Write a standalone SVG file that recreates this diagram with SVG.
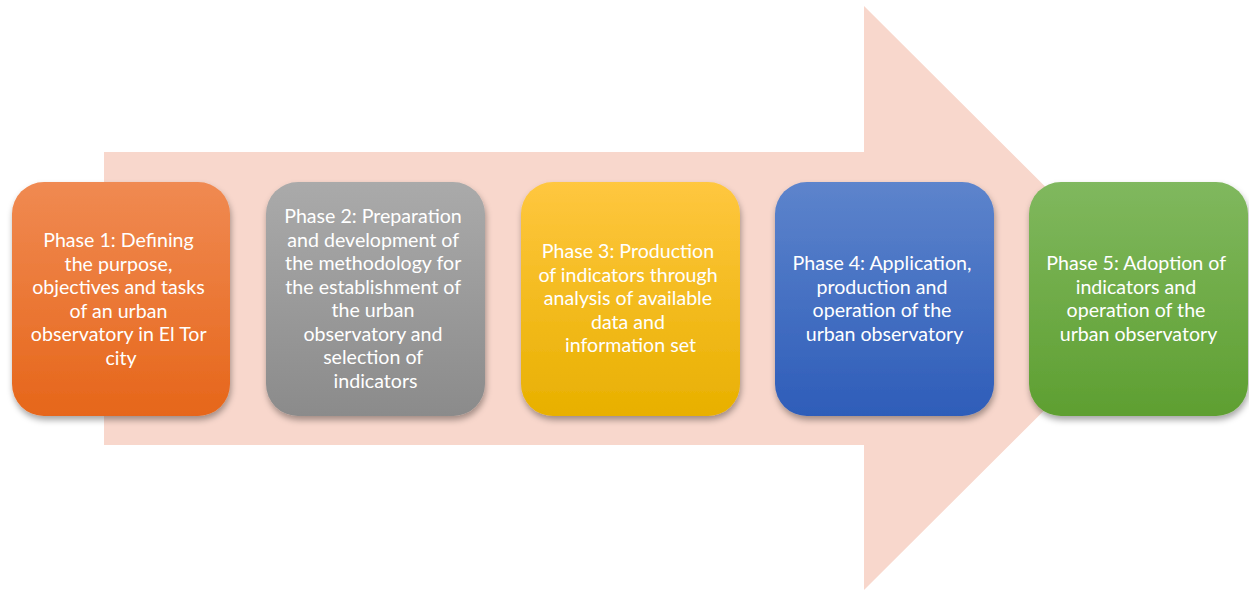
<svg xmlns="http://www.w3.org/2000/svg" width="1249" height="592" viewBox="0 0 1249 592">
  <defs>
    <linearGradient id="gOrange" x1="0" y1="0" x2="0" y2="1">
      <stop offset="0" stop-color="#F08A52"/>
      <stop offset="1" stop-color="#E6661A"/>
    </linearGradient>
    <linearGradient id="gGray" x1="0" y1="0" x2="0" y2="1">
      <stop offset="0" stop-color="#AAAAAA"/>
      <stop offset="1" stop-color="#8B8B8B"/>
    </linearGradient>
    <linearGradient id="gYellow" x1="0" y1="0" x2="0" y2="1">
      <stop offset="0" stop-color="#FFC73F"/>
      <stop offset="1" stop-color="#E8B000"/>
    </linearGradient>
    <linearGradient id="gBlue" x1="0" y1="0" x2="0" y2="1">
      <stop offset="0" stop-color="#5D84CC"/>
      <stop offset="1" stop-color="#2E5DB9"/>
    </linearGradient>
    <linearGradient id="gGreen" x1="0" y1="0" x2="0" y2="1">
      <stop offset="0" stop-color="#80B85E"/>
      <stop offset="1" stop-color="#5E9F31"/>
    </linearGradient>
    <filter id="shadow" x="-10%" y="-10%" width="125%" height="130%">
      <feDropShadow dx="1" dy="4" stdDeviation="3" flood-color="#000" flood-opacity="0.35"/>
    </filter>
  </defs>
  <style>
    .box { filter: url(#shadow); }
    .lbl { font-family: Lato, "Open Sans", "Liberation Sans", sans-serif; font-size: 19.6px; fill: #FFFFFF; text-anchor: middle; }
  </style>

  <rect width="1249" height="592" fill="#FFFFFF"/>

  <!-- background block arrow -->
  <g id="arrow">
    <path d="M104,152 H864 V6 L1157,298 L864,590 V445 H104 Z" fill="#F8D7CC"/>
  </g>

  <g id="connectors"></g>

  <g id="phase1">
    <rect class="box" x="12" y="182" width="218" height="234" rx="32" fill="url(#gOrange)"/>
    <text class="lbl">
      <tspan x="121" y="247">Phase 1: Defining</tspan>
      <tspan x="121" y="270.5">the purpose,</tspan>
      <tspan x="121" y="294">objectives and tasks</tspan>
      <tspan x="121" y="317.5">of an urban</tspan>
      <tspan x="121" y="341">observatory in El Tor</tspan>
      <tspan x="121" y="364.5">city</tspan>
    </text>
  </g>

  <g id="phase2">
    <rect class="box" x="266" y="182" width="219" height="234" rx="32" fill="url(#gGray)"/>
    <text class="lbl">
      <tspan x="375.5" y="223">Phase 2: Preparation</tspan>
      <tspan x="375.5" y="246.5">and development of</tspan>
      <tspan x="375.5" y="270">the methodology for</tspan>
      <tspan x="375.5" y="293.5">the establishment of</tspan>
      <tspan x="375.5" y="317">the urban</tspan>
      <tspan x="375.5" y="340.5">observatory and</tspan>
      <tspan x="375.5" y="364">selection of</tspan>
      <tspan x="375.5" y="387.5">indicators</tspan>
    </text>
  </g>

  <g id="phase3">
    <rect class="box" x="521" y="182" width="219" height="234" rx="32" fill="url(#gYellow)"/>
    <text class="lbl">
      <tspan x="630.5" y="258">Phase 3: Production</tspan>
      <tspan x="630.5" y="281.5">of indicators through</tspan>
      <tspan x="630.5" y="305">analysis of available</tspan>
      <tspan x="630.5" y="328.5">data and</tspan>
      <tspan x="630.5" y="352">information set</tspan>
    </text>
  </g>

  <g id="phase4">
    <rect class="box" x="775" y="182" width="219" height="234" rx="32" fill="url(#gBlue)"/>
    <text class="lbl">
      <tspan x="884.5" y="270">Phase 4: Application,</tspan>
      <tspan x="884.5" y="293.5">production and</tspan>
      <tspan x="884.5" y="317">operation of the</tspan>
      <tspan x="884.5" y="340.5">urban observatory</tspan>
    </text>
  </g>

  <g id="phase5">
    <rect class="box" x="1029" y="182" width="219" height="234" rx="32" fill="url(#gGreen)"/>
    <text class="lbl">
      <tspan x="1138.5" y="270">Phase 5: Adoption of</tspan>
      <tspan x="1138.5" y="293.5">indicators and</tspan>
      <tspan x="1138.5" y="317">operation of the</tspan>
      <tspan x="1138.5" y="340.5">urban observatory</tspan>
    </text>
  </g>
</svg>
